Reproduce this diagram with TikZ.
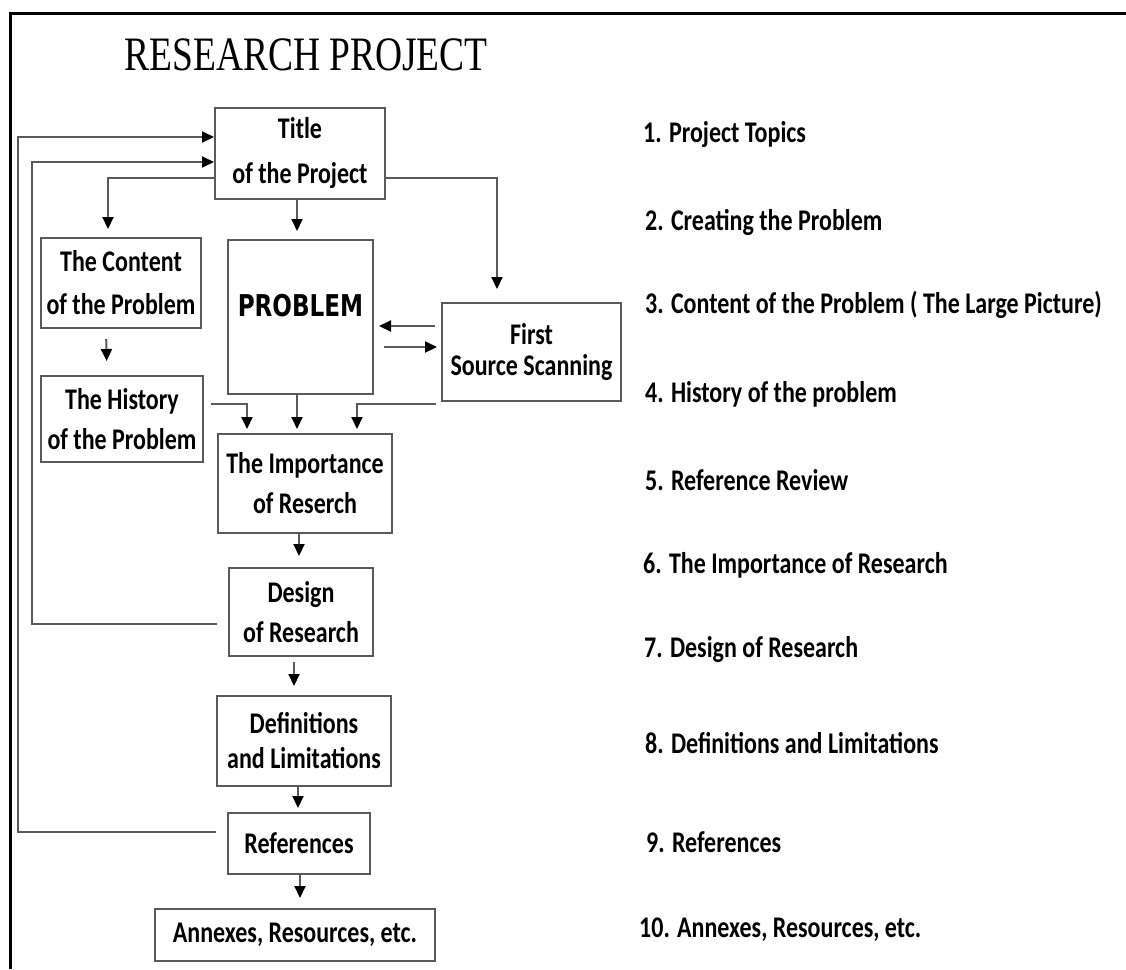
\documentclass[tikz,border=0pt]{standalone}
\usepackage{fontspec}
\setmainfont{Carlito}[FakeStretch=0.8]
\newfontfamily\headfont{Liberation Serif}[FakeStretch=0.78]
\newfontfamily\probfont{DejaVu Sans}[FakeStretch=0.77]
\usetikzlibrary{arrows.meta,positioning}
\definecolor{boxgray}{HTML}{5A5A5A}
\tikzset{box/.style={rectangle,draw=boxgray,line width=2pt,align=center,inner sep=0pt,
font=\bfseries\fontsize{30}{40}\selectfont},
head/.style={inner sep=0pt,font=\headfont\fontsize{48}{48}\selectfont},
item/.style={anchor=base west,inner sep=0pt,font=\bfseries\fontsize{30}{30}\selectfont},
flow/.style={->,draw=boxgray,line width=2pt},
frame/.style={draw=black,line width=3pt},
>={Triangle[length=12pt,width=11pt,color=black]}}

\begin{document}
\begin{tikzpicture}[x=1pt,y=1pt]
  \useasboundingbox (0,0) rectangle (1126,-969);
  \draw [frame] (10,-969) -- (10,-13) -- (1126,-13);
  \node (head) [head,anchor=base] at (306,-70) {RESEARCH PROJECT};

  \node (title) [box,minimum width=170pt,minimum height=91pt,font=\bfseries\fontsize{30}{45}\selectfont]
    at (300,-153.5) {Title\\of the Project};
  \node (content) [box,minimum width=160pt,minimum height=90pt,font=\bfseries\fontsize{30}{43}\selectfont]
    at (121,-283) {The Content\\of the Problem};
  \node (history) [box,minimum width=162pt,minimum height=86pt] at (122,-419) {The History\\of the Problem};
  \node (problem) [box,minimum width=145pt,minimum height=154pt,font=\probfont\bfseries\fontsize{30}{30}\selectfont]
    at (300.5,-317) {\raisebox{11pt}[\height][\depth]{PROBLEM}};
  \node (fss) [box,minimum width=179pt,minimum height=98pt,font=\bfseries\fontsize{30}{31}\selectfont]
    at (531.5,-352) {First\\Source Scanning};
  \node (importance) [box,minimum width=174pt,minimum height=99pt] at (305,-483.5) {The Importance\\of Reserch};
  \node (design) [box,minimum width=144pt,minimum height=88pt] at (301,-612) {Design\\of Research};
  \node (defs) [box,minimum width=174pt,minimum height=90pt,font=\bfseries\fontsize{30}{35}\selectfont]
    at (304,-741) {Definitions\\and Limitations};
  \node (refs) [box,minimum width=142pt,minimum height=61pt] at (299,-843.5) {References};
  \node (annex) [box,minimum width=280pt,minimum height=52pt] at (295,-935) {Annexes, Resources, etc.};

  \draw [flow] ([xshift=-11pt,yshift=11.5pt]refs.west) -| (18,-137) -- ([yshift=16.5pt]title.west);
  \draw [flow] ([xshift=-11pt,yshift=-12pt]design.west) -| (32,-162) -- ([yshift=-8.5pt]title.west);
  \draw [flow,shorten >=8pt] ([yshift=-24.5pt]title.west) -| ([xshift=-13pt]content.north);
  \draw [flow,shorten >=8pt] ([xshift=-3pt]title.south) -- ([xshift=-3.5pt]problem.north);
  \draw [flow,shorten >=13pt] ([yshift=-24.5pt]title.east) -| ([xshift=-34.5pt]fss.north);
  \draw [flow,shorten <=10pt,shorten >=14pt] ([xshift=-15pt]content.south) -- ([xshift=-15pt]history.north);
  \draw [flow,shorten <=6pt,shorten >=5pt] ([yshift=26pt]fss.west) -- ([yshift=26pt]fss.west -| problem.east);
  \draw [flow,shorten <=10pt,shorten >=4pt] ([yshift=5pt]fss.west -| problem.east) -- ([yshift=5pt]fss.west);
  \draw [flow,shorten <=7pt,shorten >=4pt] ([yshift=15pt]history.east) -| ([xshift=-58pt]importance.north);
  \draw [flow,shorten >=4pt] ([xshift=-3.5pt]problem.south) -- ([xshift=-8pt]importance.north);
  \draw [flow,shorten >=4pt] ([xshift=-5pt,yshift=-2pt]fss.south west) -| ([xshift=52pt]importance.north);
  \draw [flow,shorten >=11pt] ([xshift=-6pt]importance.south) -- ([xshift=-2pt]design.north);
  \draw [flow,shorten <=5pt,shorten >=9pt] ([xshift=-7pt]design.south) -- ([xshift=-10pt]defs.north);
  \draw [flow,shorten >=4pt] ([xshift=-6pt]defs.south) -- ([xshift=-1pt]refs.north);
  \draw [flow,shorten >=10pt] ([xshift=1pt]refs.south) -- ([xshift=5pt]annex.north);

  \foreach \n/\x/\y/\t in {1/643/142/{1. Project Topics},2/645/230/{2. Creating the Problem},
    3/645/313/{3. Content of the Problem ( The Large Picture)},4/645/402/{4. History of the problem},
    5/645/490/{5. Reference Review},6/643/573/{6. The Importance of Research},
    7/644/657/{7. Design of Research},8/645/753/{8. Definitions and Limitations},
    9/646/852/{9. References},10/639/937/{10. Annexes, Resources, etc.}}
    \node (topic\n) [item] at (\x,-\y) {\t};
\end{tikzpicture}
\end{document}
